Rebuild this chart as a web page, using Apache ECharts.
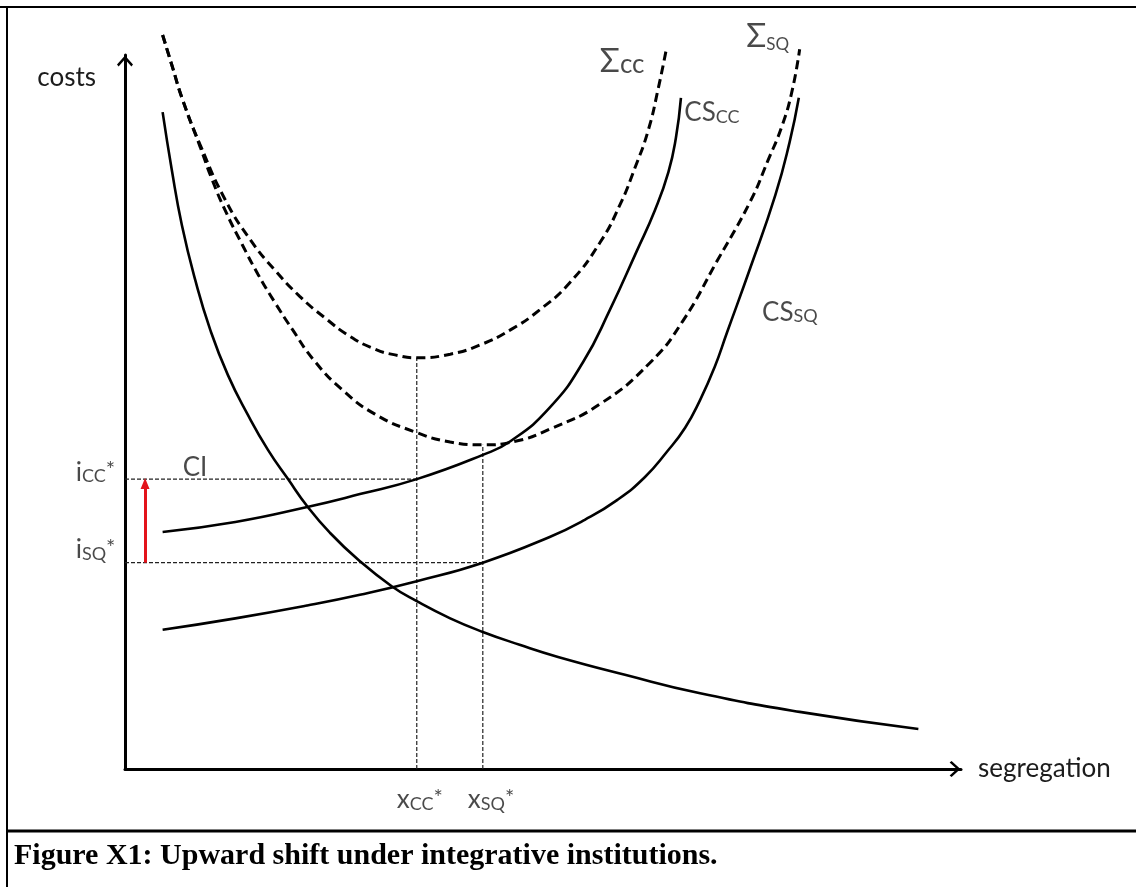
<!DOCTYPE html>
<html>
<head>
<meta charset="utf-8">
<title>Figure X1</title>
<script src="https://cdn.jsdelivr.net/npm/echarts@6/dist/echarts.min.js"></script>
<style>
  html, body { margin: 0; padding: 0; background: #fff; }
  #main { width: 1136px; height: 887px; }
</style>
</head>
<body>
<div id="main"></div>
<script>
// curves (segregation 0-100, costs 0-100)
var ciX = [4.5, 5.6, 6.8, 8.4, 10.2, 12.3, 14.7, 17.1, 19.5, 21.8, 24.5, 27.9, 31.9, 34.9, 38.9, 42.8, 47.2, 51.8, 59.8, 68.8, 80.7, 94.9];
var ciY = [92.0, 83.9, 76.2, 68.5, 61.5, 55.2, 49.6, 44.7, 40.6, 36.8, 33.1, 29.3, 25.6, 23.5, 21.1, 19.2, 17.4, 15.7, 13.2, 10.6, 8.0, 5.6];

var csccX = [4.5, 13.2, 21.8, 28.1, 34.9, 42.8, 46.1, 50.8, 54.8, 58.0, 61.2, 63.4, 65.0, 65.9, 66.5];
var csccY = [33.2, 34.6, 36.7, 38.5, 40.6, 44.0, 45.9, 50.6, 57.0, 64.3, 72.5, 78.3, 83.6, 88.4, 94.0];

var cssqX = [4.5, 13.2, 21.8, 28.1, 34.9, 42.8, 50.8, 55.0, 58.9, 62.2, 64.8, 67.0, 68.8, 70.5, 72.0, 74.8, 77.8, 79.5, 80.6];
var cssqY = [19.5, 21.1, 22.9, 24.4, 26.3, 28.9, 32.5, 34.9, 37.7, 40.9, 44.4, 47.8, 51.7, 56.2, 61.1, 70.2, 80.4, 87.8, 94.0];

var sumccX = [4.5, 5.6, 6.9, 9.0, 12.0, 15.0, 17.9, 20.9, 23.9, 26.9, 29.9, 32.3, 34.9, 38.9, 42.5, 46.1, 49.6, 53.2, 56.8, 59.2, 61.0, 62.6, 63.8, 64.8];
var sumccY = [102.8, 98.6, 93.7, 87.4, 79.7, 74.1, 69.9, 66.2, 63.2, 60.6, 58.8, 58.0, 57.6, 58.1, 59.4, 61.5, 64.3, 68.1, 73.7, 79.0, 84.2, 89.5, 95.4, 101.1];

var sumsqX = [4.5, 5.6, 6.9, 9.0, 10.4, 12.0, 14.0, 15.9, 17.9, 20.0, 22.7, 26.0, 29.9, 34.7, 38.9, 42.8, 46.7, 50.8, 56.8, 62.8, 66.7, 70.8, 74.8, 76.9, 78.6, 79.8, 80.7];
var sumsqY = [102.8, 98.6, 93.7, 87.1, 82.6, 78.2, 73.5, 69.3, 65.4, 61.6, 57.1, 53.1, 49.7, 47.2, 45.8, 45.4, 45.9, 47.6, 51.1, 56.9, 62.7, 71.1, 79.5, 85.2, 90.1, 95.0, 100.8];

// optimum points
var xCC = 34.9, xSQ = 42.8;
var iCC = 40.6, iSQ = 28.9;
var sumccMin = 57.6, sumsqMin = 45.4;
var shiftX = 2.4;

// text labels
var labelX = [6.9, 56.8, 66.9, 74.3, 76.2, -5.9, -5.9, 32.5, 41.0];
var labelY = [44.0, 101.4, 93.7, 104.9, 65.8, 43.4, 32.5, -2.5, -2.5];
var labelText = ['{m|CI}', '{g|\u03A3}{m|cc}', '{m|CS}{s|CC}', '{g|\u03A3}{q|SQ}', '{m|CS}{s|SQ}',
                 '{m|i}{s|CC}{p|*}', '{m|i}{s|SQ}{p|*}', '{m|x}{s2|CC}{p|*}', '{m|x}{s2|SQ}{p|*}'];

function pts(xs, ys) {
  var out = [];
  for (var i = 0; i < xs.length; i++) out.push([xs[i], ys[i]]);
  return out;
}

var font = 'Lato, "Liberation Sans", sans-serif';
var textColor = '#1c1c1c';
var arrowHead = 'path://M10,0 L20,11 L18,13.5 L10,4.5 L2,13.5 L0,11 Z';

var solid = { color: '#000', width: 2.6 };
var dashed = { color: '#000', width: 3, type: [9, 5] };
var guide = { color: '#222', width: 1.2, type: [4, 2] };

function curve(name, data, style) {
  return { name: name, type: 'line', data: data, smooth: 0.5, symbol: 'none', clip: false,
           silent: true, lineStyle: style, z: 3 };
}

var labelData = [];
for (var k = 0; k < labelX.length; k++) {
  labelData.push({ value: [labelX[k], labelY[k]], label: { formatter: labelText[k] } });
}

var chart = echarts.init(document.getElementById('main'));
var option = {
  animation: false,
  backgroundColor: '#fff',
  title: {
    text: 'Figure X1: Upward shift under integrative institutions.',
    left: 14, top: 841, padding: 0,
    textStyle: { fontFamily: '"Liberation Serif", serif', fontWeight: 'bold', fontSize: 30, color: '#000' }
  },
  graphic: [
    { type: 'line', shape: { x1: 0, y1: 7, x2: 1136, y2: 7 }, style: { stroke: '#000', lineWidth: 2 } },
    { type: 'line', shape: { x1: 7, y1: 7, x2: 7, y2: 887 }, style: { stroke: '#000', lineWidth: 2 } },
    { type: 'line', shape: { x1: 7, y1: 831, x2: 1136, y2: 831 }, style: { stroke: '#000', lineWidth: 3 } }
  ],
  grid: { left: 125, right: 175, top: 55, bottom: 118, outerBoundsMode: 'none' },
  xAxis: {
    type: 'value', min: 0, max: 100,
    name: 'segregation', nameLocation: 'end', nameGap: 17,
    nameTextStyle: { fontFamily: font, fontSize: 26, color: textColor, align: 'left', verticalAlign: 'middle', padding: [52, 0, 0, 0] },
    axisLine: { lineStyle: { color: '#000', width: 3 }, symbol: ['none', arrowHead], symbolSize: [16, 12], symbolOffset: [0, -6] },
    axisTick: { show: false }, axisLabel: { show: false }, splitLine: { show: false }
  },
  yAxis: {
    type: 'value', min: 0, max: 100,
    name: 'costs', nameLocation: 'end', nameGap: -23,
    nameTextStyle: { fontFamily: font, fontSize: 26, color: textColor, align: 'right', verticalAlign: 'middle', padding: [0, 29, 0, 0] },
    axisLine: { lineStyle: { color: '#000', width: 3 }, symbol: ['none', arrowHead], symbolSize: [16, 12], symbolOffset: [0, -6] },
    axisTick: { show: false }, axisLabel: { show: false }, splitLine: { show: false }
  },
  series: [
    curve('CI', pts(ciX, ciY), solid),
    curve('CS_CC', pts(csccX, csccY), solid),
    curve('CS_SQ', pts(cssqX, cssqY), solid),
    curve('Sum_CC', pts(sumccX, sumccY), dashed),
    curve('Sum_SQ', pts(sumsqX, sumsqY), dashed),
    { type: 'line', data: [[0, iCC], [xCC, iCC]], symbol: 'none', lineStyle: guide, silent: true, z: 2 },
    { type: 'line', data: [[0, iSQ], [xSQ, iSQ]], symbol: 'none', lineStyle: guide, silent: true, z: 2 },
    { type: 'line', data: [[xCC, 0], [xCC, sumccMin]], symbol: 'none', lineStyle: guide, silent: true, z: 2 },
    {
      type: 'line', data: [[xSQ, 0], [xSQ, sumsqMin]], symbol: 'none', lineStyle: guide, silent: true, z: 2,
      markLine: {
        silent: true, symbol: ['none', 'triangle'], symbolSize: [9, 11],
        label: { show: false },
        lineStyle: { color: '#e3131b', width: 3, type: 'solid' },
        data: [[{ coord: [shiftX, iSQ] }, { coord: [shiftX, iCC - 0.6] }]]
      }
    },
    {
      type: 'scatter', data: labelData, symbolSize: 0, clip: false, silent: true,
      label: {
        show: true, position: [0, 0], align: 'left', verticalAlign: 'top', color: textColor,
        rich: {
          m: { fontFamily: font, fontSize: 26, lineHeight: 26, verticalAlign: 'bottom', color: textColor },
          s: { fontFamily: font, fontSize: 18, lineHeight: 12, verticalAlign: 'bottom', color: textColor },
          s2: { fontFamily: font, fontSize: 18, lineHeight: 6, verticalAlign: 'bottom', color: textColor },
          g: { fontFamily: font, fontSize: 33, lineHeight: 33, verticalAlign: 'bottom', color: textColor },
          q: { fontFamily: font, fontSize: 17, lineHeight: 17, verticalAlign: 'bottom', color: textColor },
          p: { fontFamily: font, fontSize: 22, lineHeight: 22, verticalAlign: 'top', color: textColor }
        }
      }
    }
  ]
};
chart.setOption(option);
</script>
</body>
</html>
